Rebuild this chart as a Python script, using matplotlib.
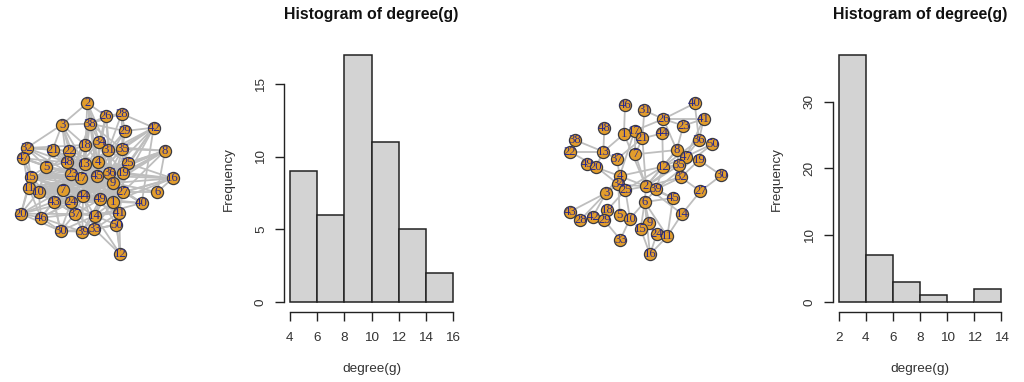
import matplotlib
matplotlib.use('Agg')
import matplotlib.pyplot as plt

W, H = 1024, 382

# node positions, one entry per label
net1_nodes = {
    2: (262, 69), 26: (318, 108), 28: (365, 101), 3: (186, 134), 38: (270, 131),
    29: (375, 153), 42: (461, 143), 32: (80, 204), 21: (158, 209), 22: (208, 213),
    18: (255, 195), 34: (298, 186), 31: (325, 211), 35: (367, 207), 8: (495, 212),
    47: (70, 235), 48: (201, 247), 13: (254, 251), 4: (293, 245), 25: (384, 250),
    5: (138, 260), 15: (92, 290), 23: (214, 282), 17: (244, 294), 45: (291, 287),
    36: (328, 279), 19: (369, 278), 16: (518, 295), 9: (339, 309), 11: (86, 323),
    10: (116, 335), 7: (188, 330), 27: (369, 336), 6: (472, 336), 43: (162, 365),
    24: (214, 365), 44: (249, 349), 49: (301, 357), 1: (339, 365), 40: (425, 369),
    20: (63, 401), 46: (123, 413), 37: (225, 402), 41: (357, 398), 14: (284, 407),
    50: (349, 434), 30: (182, 453), 39: (247, 455), 33: (283, 447), 12: (361, 523),
}
net1_edges = {
    2: [38, 26, 3, 13, 34, 4, 45, 31],
    26: [28, 38, 31, 34, 4, 9],
    28: [42, 29, 31, 19, 38],
    38: [3, 18, 13, 34, 35, 4, 23, 29],
    29: [42, 35, 31, 45],
    42: [35, 25, 19, 40, 36, 4, 1, 13],
    8: [35, 25, 19, 36, 45, 17, 9, 44, 18, 27],
    16: [36, 19, 9, 27, 25, 45, 1, 49],
    6: [27, 16, 8, 9],
    40: [27, 1, 9, 49, 14, 45],
    12: [41, 50, 14, 33, 1],
    50: [41, 1, 33, 14, 49, 39],
    32: [3, 21, 22, 47, 18, 5, 15, 48, 23],
    3: [22, 13, 21, 18, 48, 17],
    47: [5, 15, 48, 11, 23, 17, 10],
    20: [11, 15, 46, 10, 43, 37, 30, 7, 24],
    46: [43, 30, 37, 7, 10, 39, 24, 44],
    30: [37, 39, 33, 43, 24, 14],
    39: [33, 14, 37, 44, 49, 24],
    33: [14, 37, 50, 1, 44, 41],
    14: [37, 49, 1, 41, 44, 9, 24],
    41: [1, 49, 27, 9, 45, 44, 37],
    21: [22, 48, 5, 23, 13, 45, 10],
    22: [18, 48, 13, 45, 23, 4, 11],
    18: [34, 13, 4, 31, 17, 7],
    34: [31, 35, 4, 45, 36, 19, 17, 23],
    31: [35, 4, 36, 45, 25, 17, 9, 44],
    35: [25, 36, 19, 45, 4, 9, 24],
    25: [19, 36, 45, 17, 44, 1],
    5: [15, 23, 17, 45, 7, 10, 11, 44, 48],
    15: [11, 10, 23, 17, 45, 36, 9, 44, 7, 43, 1, 27, 4, 25],
    11: [10, 7, 17, 45, 44, 9, 43, 24, 36, 19, 27, 46],
    10: [7, 43, 24, 44, 23, 45, 9, 36, 49, 1, 17, 27, 37],
    7: [43, 24, 44, 23, 17, 45, 36, 49, 1, 9, 27, 13],
    43: [24, 44, 37, 17, 45, 49, 9, 30],
    24: [44, 37, 17, 45, 49, 36, 1, 9, 27],
    44: [37, 17, 45, 49, 36, 9, 1, 19, 27, 13, 4],
    48: [23, 13, 17, 45, 4, 36, 9, 19],
    13: [4, 23, 17, 45, 36, 9, 49, 19, 27],
    4: [45, 36, 9, 19, 23, 17, 49, 1],
    23: [17, 45, 49, 36, 9, 1, 19, 37],
    17: [45, 49, 36, 9, 1, 19, 27, 37],
    45: [36, 9, 19, 49, 1, 27],
    36: [19, 9, 49, 1, 27],
    19: [9, 27, 1],
    9: [27, 49, 1],
    27: [1, 49],
    49: [1, 37],
}

net2_nodes = {
    40: (434, 70), 46: (225, 75), 31: (283, 91), 26: (340, 117), 41: (461, 117),
    48: (163, 143), 23: (400, 137), 17: (254, 152), 1: (222, 162), 21: (277, 175),
    44: (337, 160), 36: (447, 180), 50: (487, 192), 38: (75, 180), 22: (60, 215),
    13: (160, 215), 8: (380, 210), 7: (256, 223), 47: (408, 230), 19: (447, 240),
    49: (110, 252), 20: (138, 260), 37: (201, 237), 12: (339, 260), 35: (387, 256),
    30: (514, 286), 4: (209, 288), 32: (393, 292), 34: (205, 313), 25: (226, 330),
    2: (288, 319), 39: (318, 328), 27: (451, 334), 3: (168, 339), 6: (284, 366),
    45: (369, 354), 43: (60, 395), 28: (91, 420), 42: (128, 411), 18: (172, 390),
    29: (163, 421), 5: (209, 405), 10: (240, 416), 14: (396, 402), 9: (298, 428),
    15: (272, 447), 24: (320, 463), 11: (352, 469), 33: (211, 479), 16: (300, 523),
}
net2_edges = {
    40: [26, 36],
    46: [1],
    31: [26, 21],
    26: [17, 23, 8, 41],
    23: [41, 8],
    41: [36, 47],
    48: [13],
    17: [1, 21, 7, 4],
    1: [13, 2],
    21: [44, 2, 7],
    44: [12],
    38: [22, 13],
    22: [13, 20],
    13: [20, 37],
    49: [20, 4],
    20: [34],
    37: [4, 21],
    7: [8, 2],
    8: [47, 35, 12, 2],
    36: [47, 12],
    50: [47, 39],
    47: [12, 2],
    19: [30, 32],
    30: [27],
    27: [32, 14],
    14: [11, 2],
    32: [2, 39],
    35: [2, 12],
    12: [2, 39, 4, 25],
    4: [2, 25, 3, 34],
    34: [3, 5, 2],
    25: [2, 18, 10],
    2: [6, 39, 45],
    3: [43, 42, 28],
    43: [28],
    28: [42],
    42: [29],
    29: [18, 33],
    18: [5],
    5: [10],
    10: [6, 33],
    6: [9, 15, 16, 45, 11],
    15: [16],
    24: [16],
    11: [16, 45],
    39: [6, 45],
}

hist1_edges = [4, 6, 8, 10, 12, 14, 16]
hist1_counts = [9, 6, 17, 11, 5, 2]
hist1_yticks = [0, 5, 10, 15]
hist2_edges = [2, 4, 6, 8, 10, 12, 14]
hist2_counts = [37, 7, 3, 1, 0, 2]
hist2_yticks = [0, 10, 20, 30]

plt.rcParams['font.family'] = ['Liberation Sans', 'DejaVu Sans']
fig = plt.figure(figsize=(W / 100, H / 100), dpi=100)


def px_axes(left, top, right, bottom):
    return fig.add_axes([left / W, 1 - bottom / H, (right - left) / W, (bottom - top) / H])


def draw_net(x0, nodes, edges):
    ax = px_axes(x0, 80, x0 + 200, 280)
    ax.set_xlim(0, 600)
    ax.set_ylim(600, 0)
    ax.axis('off')
    for a, targets in edges.items():
        for b in targets:
            ax.plot([nodes[a][0], nodes[b][0]], [nodes[a][1], nodes[b][1]],
                    color='#bebebe', lw=1.3, zorder=1)
    xs = [p[0] for p in nodes.values()]
    ys = [p[1] for p in nodes.values()]
    ax.scatter(xs, ys, s=76, facecolor='#e29d2c', edgecolor='#3a3a40', linewidth=0.9, zorder=2)
    for label, (x, y) in nodes.items():
        ax.text(x, y, str(label), family='Liberation Serif', fontsize=9.2, color='#2a2a8c',
                ha='center', va='center', zorder=3)


def draw_hist(left, right, bins, counts, yticks):
    ax = px_axes(left, 55, right, 302)
    ax.set_xlim(bins[0], bins[-1])
    ax.set_ylim(0, max(counts))
    ax.patch.set_alpha(0)
    widths = [bins[i + 1] - bins[i] for i in range(len(counts))]
    ax.bar(bins[:-1], counts, width=widths, align='edge', facecolor='#d3d3d3',
           edgecolor='#222222', linewidth=1.1, clip_on=False)
    for side in ['top', 'right']:
        ax.spines[side].set_visible(False)
    ax.spines['left'].set_position(('outward', 4.4))
    ax.spines['bottom'].set_position(('outward', 7.2))
    ax.spines['left'].set_bounds(yticks[0], yticks[-1])
    ax.spines['bottom'].set_bounds(bins[0], bins[-1])
    ax.spines['left'].set_linewidth(1.0)
    ax.spines['bottom'].set_linewidth(1.0)
    ax.spines['left'].set_color('#222222')
    ax.spines['bottom'].set_color('#222222')
    ax.set_xticks(bins)
    ax.set_yticks(yticks)
    ax.tick_params(axis='x', length=6.2, width=1.0, pad=8, labelsize=9.7, color='#222222', labelcolor='#333333')
    ax.tick_params(axis='y', length=6.2, width=1.0, pad=6, labelsize=9.7, color='#222222', labelcolor='#333333')
    plt.setp(ax.get_yticklabels(), rotation=90, va='center')
    mid = (left + right) / 2
    fig.text(mid / W, 1 - 14 / H, 'Histogram of degree(g)', fontsize=11.4, fontweight='bold',
             ha='center', va='center', color='#111111')
    fig.text(mid / W, 1 - 369 / H, 'degree(g)', fontsize=9.7, ha='center', va='center', color='#333333')
    fig.text((left - 61.5) / W, 1 - 179 / H, 'Frequency', fontsize=9.7, rotation=90,
             ha='center', va='center', color='#333333')


draw_net(0, net1_nodes, net1_edges)
draw_net(550, net2_nodes, net2_edges)
draw_hist(290, 453, hist1_edges, hist1_counts, hist1_yticks)
draw_hist(838.7, 1001.3, hist2_edges, hist2_counts, hist2_yticks)

fig.savefig('out.png', dpi=100)
